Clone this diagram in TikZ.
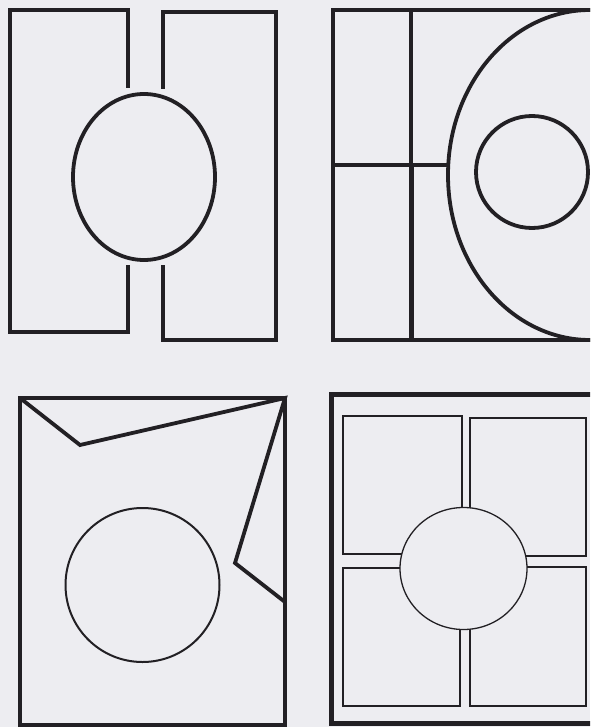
\documentclass[tikz,border=0pt]{standalone}
\begin{document}
\definecolor{paper}{RGB}{237,237,241}
\definecolor{ink}{RGB}{34,32,36}
\begin{tikzpicture}[x=1pt,y=-1pt,
  heavy/.style={draw=ink,line width=3.8pt,line join=miter},
  heavier/.style={draw=ink,line width=5pt,line join=miter},
  medium/.style={draw=ink,line width=2pt},
  light/.style={draw=ink,line width=1.3pt}]
\useasboundingbox (0,0) rectangle (590,727);
\clip (0,0) rectangle (590,727);
\fill[paper] (0,0) rectangle (590,727);
% Panel 1
\draw[heavy] (128,88) -- (128,10) -- (10,10) -- (10,332) -- (128,332) -- (128,265);
\draw[heavy] (163,89) -- (163,12) -- (276,12) -- (276,340) -- (163,340) -- (163,265);
\draw[heavy] (144,177) ellipse [x radius=71, y radius=83];
% Panel 2
\draw[heavy] (333,10) rectangle (640,340);
\draw[heavy] (411,10) -- (411,165);
\draw[heavier] (411,165) -- (411,340);
\draw[heavy] (333,165) -- (448,165);
\draw[heavy] (590,175) ellipse [x radius=142, y radius=165];
\draw[heavy] (532,172) circle [radius=56];
% Panel 3
\draw[heavy] (20,398) rectangle (285,725);
\draw[heavy] (20,398) -- (80,445) -- (285,398) -- (235,563) -- (285,602);
\draw[medium] (142.5,585) circle [radius=77];
% Panel 4
\draw[heavier] (331,394) rectangle (640,723);
\draw[light] (343,416) rectangle (462,554);
\draw[light] (470,418) rectangle (586,556);
\draw[light] (343,568) rectangle (460,706);
\draw[light] (470,567) rectangle (586,706);
\draw[light,fill=paper] (463.5,568.5) ellipse [x radius=63.5, y radius=61];
\end{tikzpicture}
\end{document}
